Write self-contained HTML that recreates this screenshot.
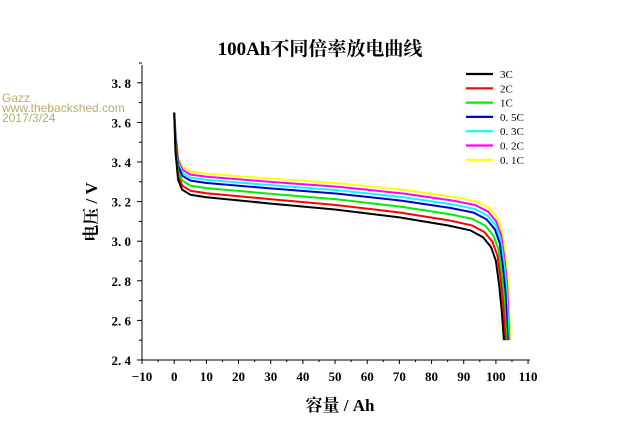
<!DOCTYPE html>
<html><head><meta charset="utf-8"><style>
body{margin:0;background:#fff;width:640px;height:428px;overflow:hidden}
svg{display:block}
text{font-family:"Liberation Serif","Noto Serif CJK SC",serif;font-weight:bold}
</style></head><body>
<svg id="s" width="640" height="428" xmlns="http://www.w3.org/2000/svg">
<text x="320" y="55" text-anchor="middle" font-size="19" font-weight="normal">100Ah不同倍率放电曲线</text>
<g font-size="12">
<text x="2" y="102" style="font-family:'Liberation Sans',sans-serif;font-weight:normal" fill="#b5ad6a">Gazz</text>
<text x="2" y="112" style="font-family:'Liberation Sans',sans-serif;font-weight:normal" fill="#b5ad6a">www.thebackshed.com</text>
<text x="2" y="122" style="font-family:'Liberation Sans',sans-serif;font-weight:normal" fill="#b5ad6a">2017/3/24</text>
</g>
<line x1="142" y1="65" x2="142" y2="360" stroke="#000"/>
<line x1="142" y1="360" x2="530" y2="360" stroke="#000"/>
<g id="ticks" stroke="#000"></g>
<g id="lab" font-size="13"></g>
<text x="340" y="411" text-anchor="middle" font-size="17">容量 / Ah</text>
<text transform="translate(97,212) rotate(-90)" text-anchor="middle" font-size="17">电压 / V</text>
<g id="curves" fill="none" stroke-width="2" stroke-linejoin="round"></g>
<g id="leg" font-size="11"></g>
</svg>
<script>
const X=v=>174.2+v*3.217, Y=v=>360-(v-2.4)*198;
let t='',l='';
for(let v=-10;v<=110;v+=5){t+=`<line x1="${X(v)}" y1="360" x2="${X(v)}" y2="${v%10==0?364:362}"/>`;}
for(let v=-10;v<=110;v+=10){l+=`<text x="${X(v)}" y="381" text-anchor="middle">${v<0?'−10':v}</text>`;}
for(let i=0;i<=15;i++){let v=2.4+i*0.1,y=Y(v);t+=`<line x1="142" y1="${y}" x2="${i%2==0?137:139}" y2="${y}"/>`;if(i%2==0)l+=`<text x="131" y="${y+5}" text-anchor="end">${v.toFixed(1).replace('.','. ')}</text>`;}
document.getElementById('ticks').innerHTML=t;document.getElementById('lab').innerHTML=l;
const base=[[0,3.65],[0.4,3.45],[1.2,3.31],[2.5,3.26],[5,3.235],[10,3.222],[30,3.19],[50,3.16],[70,3.12],[85,3.08],[92,3.055],[96,3.02],[98.5,2.97],[100,2.9],[101,2.78],[101.8,2.65],[102.5,2.5]];
const S=[['#000',0,102.5,'3C'],['#f00',0.02,103,'2C'],['#0e0',0.045,103.3,'1C'],['#00c',0.07,103.7,'0. 5C'],['#0ff',0.085,104,'0. 3C'],['#f0f',0.1,104.2,'0. 2C'],['#ff0',0.115,104.5,'0. 1C']];
let c='',g='';
S.slice().reverse().forEach(s=>{let k=s[2]/102.5;let p=base.map((q,i)=>{let x=i==0?0:q[0]*k;let v=q[1];if(i>0&&i<base.length-1)v+=s[1]*(1+q[0]/100*0.3);return X(x).toFixed(1)+','+Y(v).toFixed(1)}).join(' ');c+=`<polyline points="${p}" stroke="${s[0]}"/>`;});
S.forEach((s,i)=>{let y=74+i*14.3;g+=`<line x1="466" y1="${y}" x2="493" y2="${y}" stroke="${s[0]}" stroke-width="2.2"/><text x="500" y="${y+4}" style="font-weight:normal">${s[3]}</text>`;});
document.getElementById('curves').innerHTML=c;document.getElementById('leg').innerHTML=g;
</script>
</body></html>
